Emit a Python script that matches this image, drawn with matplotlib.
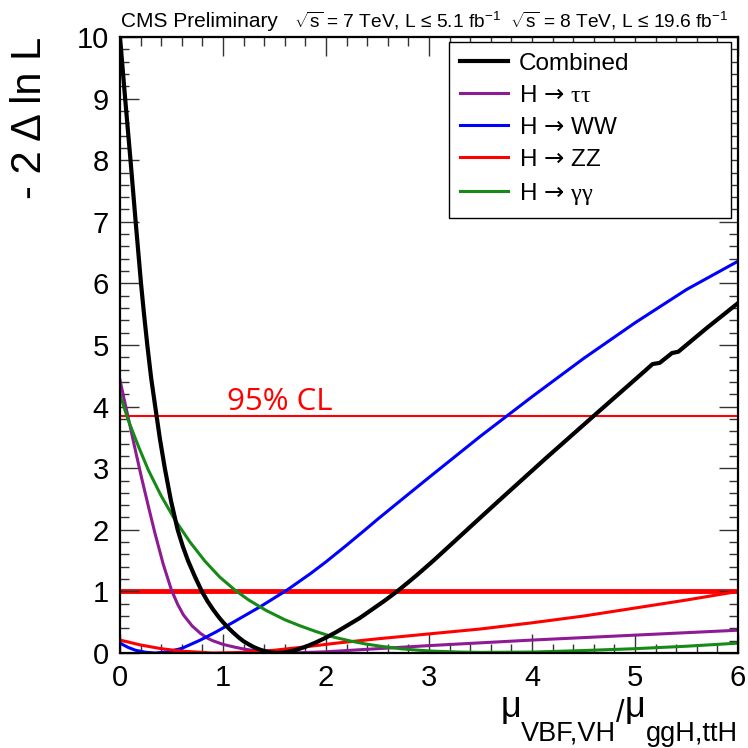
import numpy as np
import matplotlib
matplotlib.use("Agg")
import matplotlib.pyplot as plt
from matplotlib.ticker import MultipleLocator

plt.rcParams['font.family'] = ['Liberation Sans', 'DejaVu Sans']
plt.rcParams['mathtext.fontset'] = 'custom'
plt.rcParams['mathtext.rm'] = 'Liberation Sans'
plt.rcParams['mathtext.it'] = 'Liberation Sans'
plt.rcParams['mathtext.bf'] = 'Liberation Sans:bold'
plt.rcParams['mathtext.sf'] = 'DejaVu Sans'
plt.rcParams['mathtext.tt'] = 'Liberation Serif'

# Combined
comb_x = [0, 0.05, 0.102, 0.152, 0.204, 0.232, 0.265, 0.302, 0.342, 0.388, 0.435,
          0.495, 0.56, 0.61, 0.66, 0.73, 0.795, 0.85, 0.906, 0.96, 1.0, 1.05, 1.1,
          1.15, 1.2, 1.25, 1.3, 1.35, 1.4, 1.46, 1.52, 1.6, 1.7, 1.8, 1.9, 2.0, 2.1,
          2.2, 2.33, 2.45, 2.57, 2.69, 2.8, 2.9, 3.05, 3.2, 3.35, 3.5, 3.69, 4.14,
          4.6, 5.11, 5.17, 5.24, 5.3, 5.36, 5.42, 5.7, 6.0]
comb_y = [10.0, 9.0, 8.0, 7.0, 6.0, 5.52, 5.0, 4.47, 4.0, 3.47, 3.0,
          2.47, 2.0, 1.73, 1.5, 1.23, 1.0, 0.84, 0.7, 0.58, 0.5, 0.41, 0.33,
          0.255, 0.19, 0.14, 0.095, 0.06, 0.033, 0.01, 0.0, 0.01, 0.045, 0.1, 0.17, 0.25, 0.34,
          0.44, 0.57, 0.71, 0.85, 1.0, 1.15, 1.29, 1.51, 1.74, 1.97, 2.2, 2.49, 3.17,
          3.85, 4.6, 4.69, 4.71, 4.79, 4.87, 4.89, 5.28, 5.68]

# H -> tautau
tt_x = [0, 0.04, 0.08, 0.14, 0.21, 0.28, 0.34, 0.42, 0.5, 0.56, 0.615, 0.7, 0.78,
        0.85, 0.9, 1.0, 1.1, 1.2, 1.3, 1.4, 1.5, 1.75, 2.0, 2.5, 3.0, 3.5, 4.0,
        4.5, 5.0, 5.5, 6.0]
tt_y = [4.43, 4.12, 3.82, 3.36, 2.84, 2.35, 1.94, 1.44, 1.02, 0.79, 0.62, 0.44, 0.32,
        0.24, 0.2, 0.14, 0.1, 0.065, 0.04, 0.015, 0.0, 0.005, 0.02, 0.07, 0.12, 0.165, 0.21,
        0.25, 0.29, 0.33, 0.37]

# H -> WW
ww_x = [0, 0.08, 0.15, 0.25, 0.34, 0.45, 0.6, 0.78, 0.93, 1.1, 1.36, 1.62, 1.85,
        2.0, 2.2, 2.38, 2.5, 2.72, 3.0, 3.5, 4.0, 4.5, 5.0, 5.5, 6.0]
ww_y = [0.16, 0.09, 0.045, 0.012, 0.0, 0.015, 0.075, 0.21, 0.34, 0.5, 0.75, 1.02, 1.29,
        1.48, 1.75, 2.0, 2.17, 2.47, 2.85, 3.52, 4.16, 4.78, 5.36, 5.9, 6.36]

# H -> ZZ
zz_x = [0, 0.2, 0.4, 0.6, 0.9, 1.2, 1.5, 1.8, 2.1, 2.5, 3.0, 3.5, 4.0, 4.5,
        5.0, 5.5, 6.0]
zz_y = [0.21, 0.13, 0.07, 0.03, 0.0, 0.01, 0.045, 0.1, 0.16, 0.23, 0.31, 0.39, 0.49,
        0.6, 0.73, 0.86, 1.0]

# H -> gammagamma
gg_x = [0, 0.08, 0.18, 0.275, 0.4, 0.534, 0.68, 0.825, 0.97, 1.117, 1.25, 1.42,
        1.6, 1.75, 1.9, 2.07, 2.25, 2.39, 2.55, 2.72, 2.9, 3.04, 3.3, 3.5, 4.0,
        4.5, 5.0, 5.5, 6.0]
gg_y = [4.19, 3.78, 3.35, 2.97, 2.55, 2.16, 1.8, 1.49, 1.23, 1.02, 0.86, 0.69,
        0.54, 0.44, 0.35, 0.26, 0.19, 0.145, 0.105, 0.07, 0.045, 0.03, 0.015, 0.01, 0.015,
        0.04, 0.07, 0.11, 0.16]

W = 748.0
fig = plt.figure(figsize=(7.48, 7.48), dpi=100)
ax = fig.add_axes([120 / W, 95 / W, 618 / W, 616 / W])

ax.axhline(3.84, color='red', lw=1.5, zorder=1)
ax.axhline(1.0, color='red', lw=3.5, zorder=1)

arrow = u' $\\mathsf{\u2192}$ '
ax.plot(tt_x, tt_y, color='#8e1a94', lw=2.2, label=u'H' + arrow + u'$\\mathtt{\u03c4\u03c4}$')
ax.plot(ww_x, ww_y, color='#0000ff', lw=2.2, label=u'H' + arrow + 'WW')
ax.plot(zz_x, zz_y, color='#ff0000', lw=2.2, label=u'H' + arrow + 'ZZ')
ax.plot(gg_x, gg_y, color='#168a16', lw=2.2, label=u'H' + arrow + u'$\\mathtt{\u03b3\u03b3}$')
ax.plot(comb_x, comb_y, color='black', lw=3.0, label='Combined', zorder=5)

ax.text(1.036, 3.94, '95% CL', color='red', fontsize=22.5, family=['Open Sans', 'DejaVu Sans'],
        va='baseline', ha='left')

ax.set_xlim(0, 6)
ax.set_ylim(0, 10)
ax.xaxis.set_major_locator(MultipleLocator(1))
ax.xaxis.set_minor_locator(MultipleLocator(0.2))
ax.yaxis.set_major_locator(MultipleLocator(1))
ax.yaxis.set_minor_locator(MultipleLocator(0.2))
ax.tick_params(which='both', direction='in', top=True, right=True, width=1, color='#333333')
ax.tick_params(which='major', length=13.5, labelsize=21)
ax.tick_params(which='minor', length=6.5)
ax.tick_params(axis='x', which='major', pad=8)
ax.tick_params(axis='y', which='major', pad=8)
for s in ax.spines.values():
    s.set_linewidth(1.6)

# y title
fig.text(30 / W, 1 - 37 / W, u'- 2 \u0394 ln L', fontsize=30, rotation=90,
         ha='center', va='top')

# x title, built piece by piece from the right edge (ROOT style subscripts)
renderer = fig.canvas.get_renderer()
pieces = [(u'ggH,ttH', 19.5, 741), (u'$\\mathrm{\u03bc}$', 26, 717), (u'/', 22, 722),
          (u'VBF,VH', 19.5, 741), (u'$\\mathrm{\u03bc}$', 26, 717)]
gaps = [0, 2, -1, 0, 1]
xr = 738.0
for (txt, fs, base), gap in zip(pieces, gaps):
    xr -= gap
    t = fig.text(xr / W, 1 - base / W, txt, fontsize=fs, ha='right', va='baseline')
    bb = t.get_window_extent(renderer=renderer)
    xr = bb.x0

h, l = ax.get_legend_handles_labels()
order = [4, 0, 1, 2, 3]
x0 = (449 - 120) / 618.0
x1 = (731 - 120) / 618.0
leg = ax.legend([h[i] for i in order], [l[i] for i in order], loc='upper left',
                bbox_to_anchor=(x0, 0.9919 - 0.5, x1 - x0, 0.5), mode='expand',
                borderaxespad=0, fontsize=17.5,
                handlelength=1.98, labelspacing=0.41, fancybox=False, framealpha=1,
                edgecolor='black', borderpad=0.45, handletextpad=0.45)
leg.get_frame().set_linewidth(1.0)
leg.set_zorder(10)

fig.text(121 / W, 1 - 27 / W, 'CMS Preliminary', fontsize=15, ha='left', va='baseline')
fig.text(728 / W, 1 - 27 / W,
         u'$\\sqrt{s}$ = 7 TeV, L \u2264 5.1 fb$^{-1}$  $\\sqrt{s}$ = 8 TeV, L \u2264 19.6 fb$^{-1}$',
         fontsize=13.8, ha='right', va='baseline')

fig.savefig('out.png', dpi=100)
